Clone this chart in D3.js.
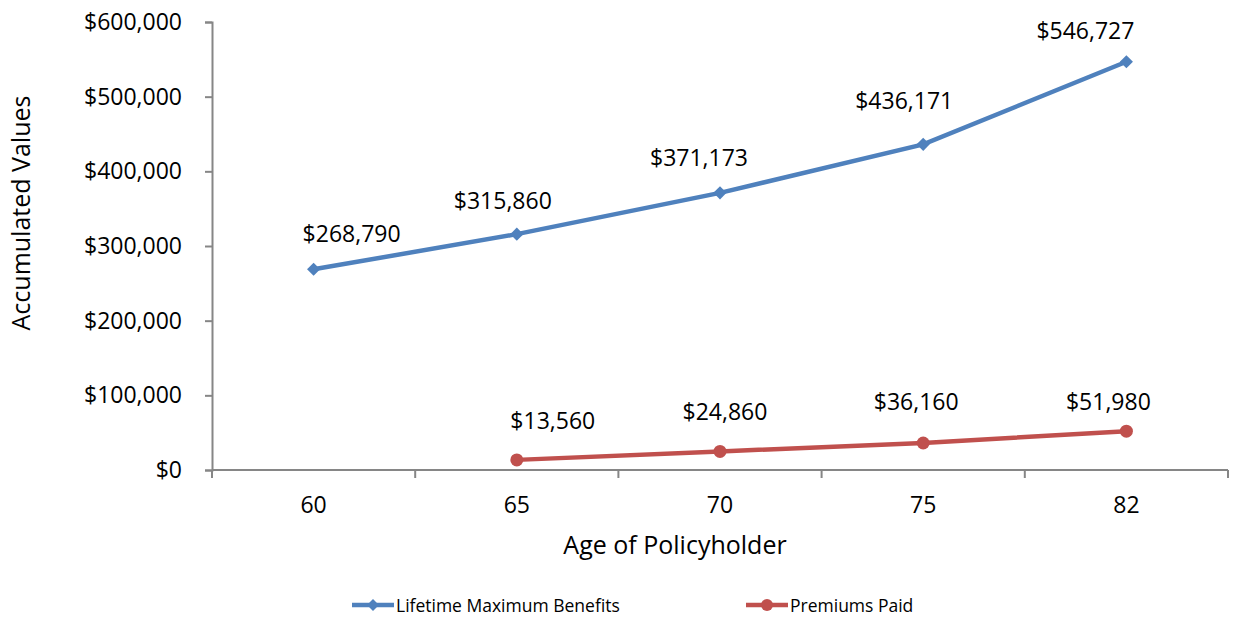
<!DOCTYPE html>
<html>
<head>
<meta charset="utf-8">
<script src="https://cdn.jsdelivr.net/npm/d3@7"></script>
<style>
  body { margin: 0; background: #fff; }
  text { font-family: "Open Sans", Lato, sans-serif; fill: #000; }
</style>
</head>
<body>
<script>
// datos del grafico
var edades = ["60", "65", "70", "75", "82"];
var beneficios = [268790, 315860, 371173, 436171, 546727];
var primas = [null, 13560, 24860, 36160, 51980];
var ticksY = [0, 100000, 200000, 300000, 400000, 500000, 600000];
var series = ["Lifetime Maximum Benefits", "Premiums Paid"];
var colores = ["#4F81BD", "#C0504D"];

// ajustes manuales de las etiquetas (como en el original)
var ajusteEtiquetas = [
  [[38, -27], [-14, -25], [-21, -27], [-19, -35], [-41, -23]],
  [null, [36, -31], [5, -31], [-7, -33], [-18, -21]]
];

var W = 1236, H = 617;
var margin = {top: 22, right: 8, bottom: 147, left: 212},
    width = W - margin.left - margin.right,
    height = H - margin.top - margin.bottom;

var svg = d3.select("body").append("svg")
    .attr("width", W).attr("height", H)
    .append("g")
    .attr("transform", "translate(" + margin.left + "," + margin.top + ")");

var x = d3.scaleBand().domain(edades).range([0, width]);
var y = d3.scaleLinear().domain([0, 600000]).range([height, 0]);
var fmt = d3.format("$,");
var tamLetra = "23px";

// eje Y
var ejeY = svg.append("g")
    .call(d3.axisLeft(y).tickValues(ticksY).tickFormat(fmt).tickSize(7).tickPadding(23));
ejeY.selectAll("line, path").attr("stroke", "#868686").attr("stroke-width", 2);
ejeY.selectAll("text").style("font-size", tamLetra).attr("fill", "#000");

// eje X (marcas en los limites de las categorias)
var ejeX = svg.append("g").attr("transform", "translate(0," + height + ")");
ejeX.append("line").attr("x1", 0).attr("x2", width)
    .attr("stroke", "#868686").attr("stroke-width", 2);
var limites = edades.map(function(d) { return x(d); }).concat([width]);
ejeX.selectAll(".marca").data(limites).enter().append("line")
    .attr("x1", function(d) { return d; }).attr("x2", function(d) { return d; })
    .attr("y1", 0).attr("y2", 8)
    .attr("stroke", "#868686").attr("stroke-width", 2);
ejeX.selectAll(".etq").data(edades).enter().append("text")
    .attr("x", function(d) { return x(d) + x.bandwidth() / 2; })
    .attr("y", 43)
    .attr("text-anchor", "middle")
    .style("font-size", tamLetra)
    .text(function(d) { return d; });

// titulos
svg.append("text")
    .attr("x", width / 2 - 45).attr("y", height + 84)
    .attr("text-anchor", "middle")
    .style("font-size", "25px")
    .text("Age of Policyholder");
svg.append("text")
    .attr("transform", "translate(" + (-182) + "," + (height / 2 - 33) + ") rotate(-90)")
    .attr("text-anchor", "middle")
    .style("font-size", "25px")
    .text("Accumulated Values");

var cx = function(d) { return x(d.edad) + x.bandwidth() / 2; };
var linea = d3.line().defined(function(d) { return d.v != null; })
    .x(cx).y(function(d) { return y(d.v); });

[beneficios, primas].forEach(function(vals, i) {
  var datos = edades.map(function(e, j) { return {edad: e, v: vals[j], aj: ajusteEtiquetas[i][j]}; });
  var validos = datos.filter(function(d) { return d.v != null; });
  svg.append("path").datum(datos)
     .attr("fill", "none").attr("stroke", colores[i]).attr("stroke-width", 4.5)
     .attr("d", linea);
  if (i === 0) {
    svg.selectAll(".diam").data(validos).enter().append("path")
       .attr("d", d3.symbol().type(d3.symbolDiamond2).size(110))
       .attr("transform", function(d) { return "translate(" + cx(d) + "," + y(d.v) + ")"; })
       .attr("fill", colores[i]);
  } else {
    svg.selectAll(".circ").data(validos).enter().append("circle")
       .attr("cx", cx).attr("cy", function(d) { return y(d.v); })
       .attr("r", 6.5).attr("fill", colores[i]);
  }
  svg.selectAll(".lbl" + i).data(validos).enter().append("text")
     .attr("x", function(d) { return cx(d) + d.aj[0]; })
     .attr("y", function(d) { return y(d.v) + d.aj[1]; })
     .attr("text-anchor", "middle")
     .style("font-size", tamLetra)
     .text(function(d) { return fmt(d.v); });
});

// leyenda
var leyX = [352, 746];
var ley = d3.select("svg").append("g");
series.forEach(function(s, i) {
  var g = ley.append("g").attr("transform", "translate(" + leyX[i] + ",605)");
  g.append("line").attr("x1", 0).attr("x2", 42)
   .attr("stroke", colores[i]).attr("stroke-width", 4.5);
  if (i === 0) {
    g.append("path").attr("d", d3.symbol().type(d3.symbolDiamond2).size(90))
     .attr("transform", "translate(21,0)").attr("fill", colores[i]);
  } else {
    g.append("circle").attr("cx", 21).attr("r", 6).attr("fill", colores[i]);
  }
  g.append("text").attr("x", 44).attr("y", 7)
   .style("font-size", "17.5px").text(s);
});
</script>
</body>
</html>
